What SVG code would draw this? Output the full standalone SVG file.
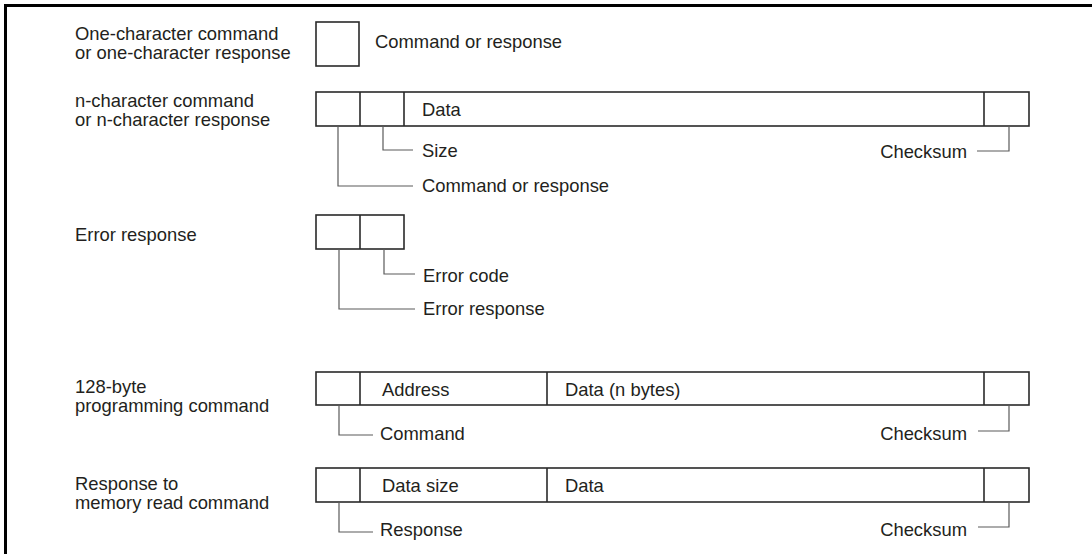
<svg xmlns="http://www.w3.org/2000/svg" width="1092" height="554" viewBox="0 0 1092 554">
<style>
.frame{stroke:#000;stroke-width:3;fill:none}
.box{fill:#fff;stroke:#2a2a2a;stroke-width:1.6}
.div{stroke:#2a2a2a;stroke-width:1.6}
.lead{fill:none;stroke:#5a5a5a;stroke-width:1.2}
text{font-family:"Liberation Sans",Arial,sans-serif;font-size:18.4px;fill:#231f20}
.r{text-anchor:end}
</style>
<rect width="1092" height="554" fill="#fff"/>
<g id="frame">
<line class="frame" x1="4" y1="5.5" x2="1092" y2="5.5"/>
<line class="frame" x1="5.5" y1="4" x2="5.5" y2="554"/>
</g>
<g id="labels">
<text x="75" y="40">One-character command</text>
<text x="75" y="59">or one-character response</text>
<text x="75" y="107">n-character command</text>
<text x="75" y="126">or n-character response</text>
<text x="75" y="241">Error response</text>
<text x="75" y="393">128-byte</text>
<text x="75" y="412">programming command</text>
<text x="75" y="490">Response to</text>
<text x="75" y="509">memory read command</text>
</g>
<g id="frame1">
<rect class="box" x="316" y="22" width="43" height="44"/>
<text x="375" y="48">Command or response</text>
</g>
<g id="frame2">
<rect class="box" x="316" y="92" width="713" height="34"/>
<line class="div" x1="360" y1="92" x2="360" y2="126"/>
<line class="div" x1="404" y1="92" x2="404" y2="126"/>
<line class="div" x1="984" y1="92" x2="984" y2="126"/>
<text x="422" y="116">Data</text>
<text x="422" y="157">Size</text>
<text x="422" y="192">Command or response</text>
<text class="r" x="967" y="158">Checksum</text>
</g>
<g id="frame3">
<rect class="box" x="316" y="215" width="88" height="34"/>
<line class="div" x1="360" y1="215" x2="360" y2="249"/>
<text x="423" y="282">Error code</text>
<text x="423" y="315">Error response</text>
</g>
<g id="frame4">
<rect class="box" x="316" y="372" width="713" height="33"/>
<line class="div" x1="360" y1="372" x2="360" y2="405"/>
<line class="div" x1="547" y1="372" x2="547" y2="405"/>
<line class="div" x1="984" y1="372" x2="984" y2="405"/>
<text x="382" y="396">Address</text>
<text x="565" y="396">Data (n bytes)</text>
<text x="380" y="440">Command</text>
<text class="r" x="967" y="440">Checksum</text>
</g>
<g id="frame5">
<rect class="box" x="316" y="468" width="713" height="34"/>
<line class="div" x1="360" y1="468" x2="360" y2="502"/>
<line class="div" x1="547" y1="468" x2="547" y2="502"/>
<line class="div" x1="984" y1="468" x2="984" y2="502"/>
<text x="382" y="492">Data size</text>
<text x="565" y="492">Data</text>
<text x="380" y="536">Response</text>
<text class="r" x="967" y="536">Checksum</text>
</g>
<g id="connectors">
<polyline class="lead" points="383,126 383,150 413,150"/>
<polyline class="lead" points="338,126 338,186 413,186"/>
<polyline class="lead" points="1009,126 1009,151 977,151"/>
<polyline class="lead" points="384,249 384,274 415,274"/>
<polyline class="lead" points="339,249 339,309 415,309"/>
<polyline class="lead" points="339,405 339,435 373,435"/>
<polyline class="lead" points="1009,405 1009,431 978,431"/>
<polyline class="lead" points="339,502 339,532 373,532"/>
<polyline class="lead" points="1009,502 1009,527 978,527"/>
</g>
</svg>
